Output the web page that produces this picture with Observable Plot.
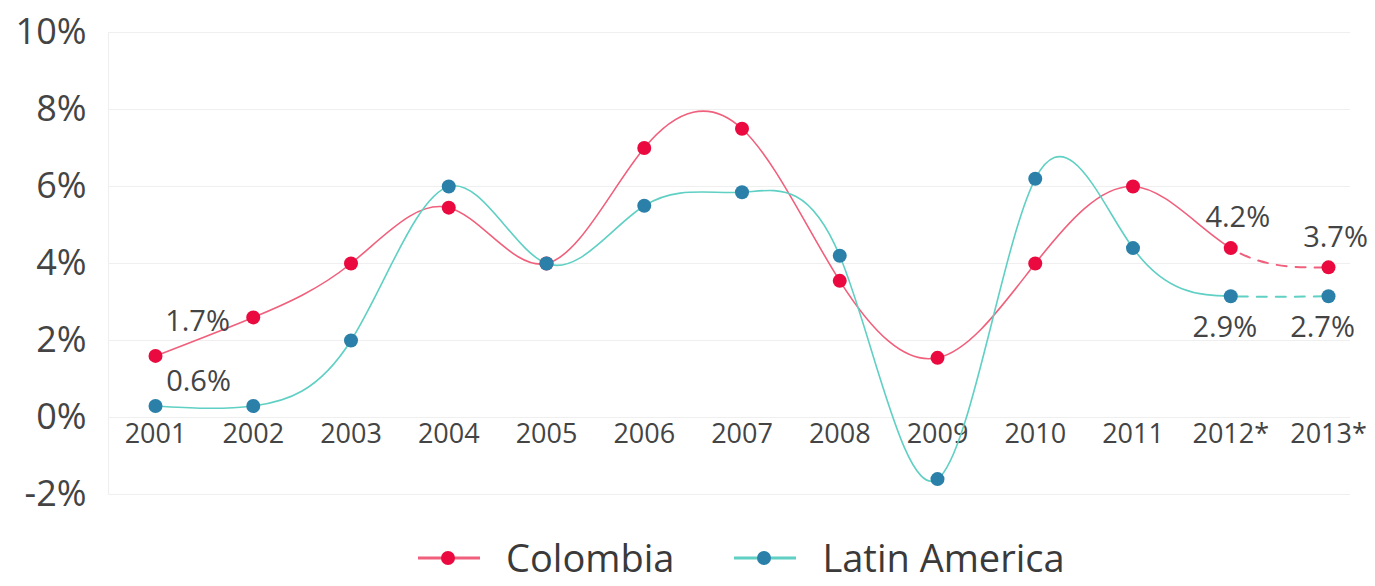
<!DOCTYPE html>
<html>
<head>
<meta charset="utf-8">
<script src="https://cdn.jsdelivr.net/npm/d3@7"></script>
<script src="https://cdn.jsdelivr.net/npm/@observablehq/plot@0.6"></script>
<style>
  body { margin: 0; background: #fff; font-family: "Open Sans", sans-serif; }
  #legend { display: flex; align-items: center; padding-left: 418px; padding-top: 18px; height: 39px; }
  .item { display: flex; align-items: center; font-size: 38px; line-height: 39px; color: #3a3a3a; }
  .item svg { margin-right: 26px; }
</style>
</head>
<body>
<div id="chart"></div>
<div id="legend"></div>
<script>
const years = ["2001","2002","2003","2004","2005","2006","2007","2008","2009","2010","2011","2012*","2013*"];
const colombia = [1.6, 2.6, 4.0, 5.45, 4.0, 7.0, 7.5, 3.55, 1.55, 4.0, 6.0, 4.4, 3.9];
const latinAmerica = [0.3, 0.3, 2.0, 6.0, 4.0, 5.5, 5.85, 4.2, -1.6, 6.2, 4.4, 3.15, 3.15];
const yTicks = [-2, 0, 2, 4, 6, 8, 10];
const seriesNames = ["Colombia", "Latin America"];
const lineColors = ["#f0607c", "#5fd0c3"];
const dotColors = ["#ea0a3f", "#2a80a8"];
// value labels: [year, text]
const colombiaLabelsTop = [["2001", "1.7%"]];
const colombiaLabelsEnd = [["2012*", "4.2%"], ["2013*", "3.7%"]];
const latamLabelsTop = [["2001", "0.6%"]];
const latamLabelsEnd = [["2012*", "2.9%"], ["2013*", "2.7%"]];

const rows = [];
years.forEach((yr, i) => {
  rows.push({year: yr, i, series: seriesNames[0], value: colombia[i]});
  rows.push({year: yr, i, series: seriesNames[1], value: latinAmerica[i]});
});
const forecastStart = "2012*";

let clipCounter = 0;
function clipX(fromKey, toKey) {
  return (index, scales, values, dims, context, next) => {
    const g = next(index, scales, values, dims, context);
    const ns = "http://www.w3.org/2000/svg";
    const id = "clipx" + (clipCounter++);
    const x0 = fromKey != null ? scales.x(fromKey) : 0;
    const x1 = toKey != null ? scales.x(toKey) : dims.width;
    const cp = document.createElementNS(ns, "clipPath");
    cp.setAttribute("id", id);
    const r = document.createElementNS(ns, "rect");
    r.setAttribute("x", x0); r.setAttribute("y", 0);
    r.setAttribute("width", x1 - x0); r.setAttribute("height", dims.height);
    cp.appendChild(r);
    g.appendChild(cp);
    g.setAttribute("clip-path", `url(#${id})`);
    return g;
  };
}

const curve = "natural";
const labelFont = {fontSize: 29, fill: "#444", fontFamily: "Open Sans"};
const toRows = (arr, vals) => arr.map(([year, text]) => ({year, text, value: vals[years.indexOf(year)]}));

const marks = [];
// grid
marks.push(Plot.ruleY(yTicks, {stroke: "#efefef", strokeWidth: 1.2}));
marks.push(Plot.frame({anchor: "left", stroke: "#efefef", strokeWidth: 1.2}));
// x labels at 0 line
marks.push(Plot.text(years, {x: d => d, y: () => 0, dy: 17, fontSize: 27, fill: "#444", fontFamily: "Open Sans"}));
// lines
seriesNames.forEach((s, k) => {
  const data = rows.filter(r => r.series === s);
  marks.push(Plot.line(data, {x: "year", y: "value", curve, stroke: lineColors[k], strokeWidth: 1.6, render: clipX(null, forecastStart)}));
  marks.push(Plot.line(data, {x: "year", y: "value", curve, stroke: lineColors[k], strokeWidth: 2, strokeDasharray: "10 9", render: clipX(forecastStart, null)}));
});
// dots
seriesNames.forEach((s, k) => {
  marks.push(Plot.dot(rows.filter(r => r.series === s), {x: "year", y: "value", r: 7, fill: dotColors[k]}));
});
// value labels
marks.push(Plot.text(toRows(colombiaLabelsTop, colombia), {x: "year", y: "value", text: "text", dx: 42, dy: -34, ...labelFont}));
marks.push(Plot.text(toRows(latamLabelsTop, latinAmerica), {x: "year", y: "value", text: "text", dx: 43, dy: -24, ...labelFont}));
marks.push(Plot.text(toRows(colombiaLabelsEnd, colombia), {x: "year", y: "value", text: "text", dx: 7, dy: -30, ...labelFont}));
marks.push(Plot.text(toRows(latamLabelsEnd, latinAmerica), {x: "year", y: "value", text: "text", dx: -6, dy: 31, ...labelFont}));
// y axis
marks.push(Plot.axisY(yTicks, {tickSize: 0, tickPadding: 22, fontSize: 36, fill: "#444", fontFamily: "Open Sans", label: null, tickFormat: d => `${d}%`}));

const chart = Plot.plot({
  width: 1375,
  height: 520,
  marginTop: 32,
  marginBottom: 26,
  marginLeft: 108,
  marginRight: 25,
  style: {fontFamily: "Open Sans", background: "#fff", overflow: "visible"},
  x: {type: "point", domain: years, padding: 0, round: false, insetLeft: 47, insetRight: 22, axis: null},
  y: {domain: [-2, 10], axis: null},
  marks
});
document.getElementById("chart").appendChild(chart);

// legend
const legend = document.getElementById("legend");
seriesNames.forEach((s, k) => {
  const item = document.createElement("div");
  item.className = "item";
  if (k > 0) item.style.marginLeft = "60px";
  item.innerHTML = `<svg width="62" height="20" viewBox="0 0 62 20"><line x1="0" y1="10" x2="62" y2="10" stroke="${lineColors[k]}" stroke-width="3"/><circle cx="30" cy="10" r="7" fill="${dotColors[k]}"/></svg><span>${s}</span>`;
  legend.appendChild(item);
});
</script>
</body>
</html>
